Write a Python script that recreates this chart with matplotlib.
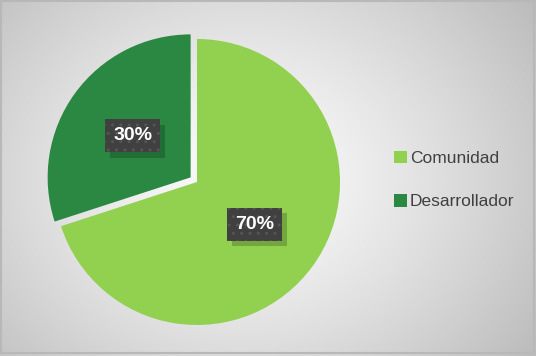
import numpy as np
import matplotlib
matplotlib.use("Agg")
import matplotlib.pyplot as plt
from matplotlib.patches import Rectangle
from matplotlib import font_manager

categories = ["Comunidad", "Desarrollador"]
values = [70, 30]
colors = ["#92D050", "#2B8843"]

names = {f.name for f in font_manager.fontManager.ttflist}
lab_family = "Liberation Sans Narrow" if "Liberation Sans Narrow" in names else "Liberation Sans"
lab_size = 15 if lab_family == "Liberation Sans Narrow" else 14

W, H = 536, 356
fig = plt.figure(figsize=(W / 100, H / 100), dpi=100)

# background gradient
bg = fig.add_axes([0, 0, 1, 1])
yy, xx = np.mgrid[0:H, 0:W]
cx, cy = W * 0.45, H * 0.5
d = np.sqrt(((xx - cx) / (W * 0.6)) ** 2 + ((yy - cy) / (H * 0.75)) ** 2)
g = np.clip(0.99 - 0.22 * d ** 1.3, 0, 1)
bg.imshow(np.dstack([g, g, g]), extent=[0, W, H, 0], aspect="auto")
bg.add_patch(Rectangle((1, 1), W - 3, H - 4, fill=False, ec="#b8b8b8", lw=1.5))
bg.set_xlim(0, W)
bg.set_ylim(H, 0)
bg.axis("off")

# pie
R = 143
cxp, cyp = 197, 182
half = 160
ax = fig.add_axes([(cxp - half) / W, (H - cyp - half) / H, 2 * half / W, 2 * half / H])
wedges, texts, autotexts = ax.pie(
    values, colors=colors, startangle=90, counterclock=False,
    explode=[0, 0.055], radius=1, autopct="%d%%", pctdistance=0.5,
    wedgeprops=dict(linewidth=0),
    textprops=dict(color="white", fontsize=lab_size, fontweight="bold", family=lab_family),
)
bw, bh = 55 / R, 33 / R
plt.rcParams["hatch.color"] = "#555555"
for t in autotexts:
    x, y = t.get_position()
    t.set_zorder(5)
    ax.add_patch(Rectangle((x - bw / 2 + 0.03, y - bh / 2 - 0.04), bw, bh,
                           fc=(0, 0, 0, 0.2), ec="none", lw=0, zorder=3))
    ax.add_patch(Rectangle((x - bw / 2, y - bh / 2), bw, bh,
                           fc="#404040", ec="#555555", lw=0, hatch="..", zorder=4))
lim = half / R
ax.set_xlim(-lim, lim)
ax.set_ylim(-lim, lim)
ax.set_aspect("equal")
ax.axis("off")

leg = fig.legend(wedges, categories, loc="center left", bbox_to_anchor=(378 / W, 1 - 180 / H),
                 frameon=False, handlelength=0.75, handleheight=0.75,
                 handletextpad=0.2, labelspacing=1.6,
                 prop=dict(family="Liberation Sans", size=12.5))
for t in leg.get_texts():
    t.set_color("#404040")

fig.savefig("out.png", dpi=100)
